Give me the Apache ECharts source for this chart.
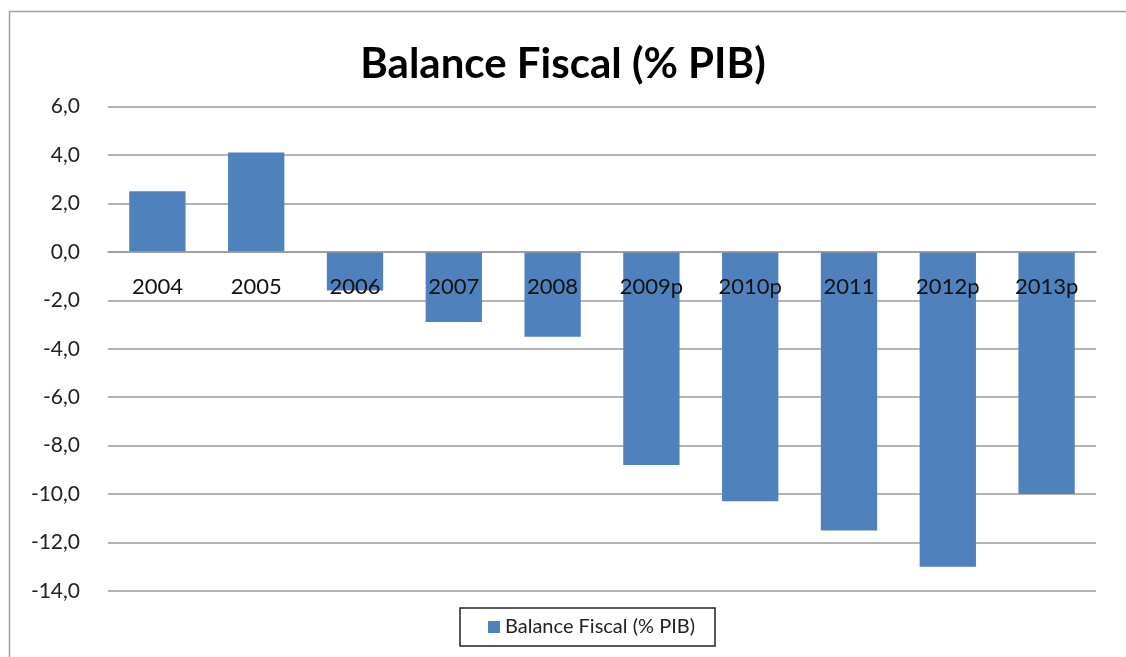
<!DOCTYPE html>
<html>
<head>
<meta charset="utf-8">
<script src="https://cdn.jsdelivr.net/npm/echarts@6/dist/echarts.min.js"></script>
<style>
  html, body { margin: 0; padding: 0; background: #fff; }
  #chart { width: 1126px; height: 657px; }
</style>
</head>
<body>
<div id="chart"></div>
<script>
// data
const years = ["2004", "2005", "2006", "2007", "2008", "2009p", "2010p", "2011", "2012p", "2013p"];
const balance = [2.5, 4.1, -1.6, -2.9, -3.5, -8.8, -10.3, -11.5, -13.0, -10.0];
const seriesName = "Balance Fiscal (% PIB)";

const chart = echarts.init(document.getElementById("chart"));

const gridTop = 106.5;
const gridBottom = 66;
const yMin = -14;
const yMax = 6;
// the category labels sit just under the zero line, as in Excel
const gridHeight = 657 - gridTop - gridBottom;
const zeroOffset = -gridHeight * (0 - yMin) / (yMax - yMin);

const option = {
  animation: false,
  backgroundColor: "#fff",
  textStyle: { fontFamily: "Lato" },
  // outer chart frame (Excel chart area border)
  graphic: [
    {
      type: "rect",
      shape: { x: 9.5, y: 11.5, width: 1130, height: 660 },
      style: { fill: "none", stroke: "#a0a0a0", lineWidth: 1.5 },
      silent: true,
    },
  ],
  title: {
    text: "Balance Fiscal (% PIB)",
    left: "center",
    top: 38,
    textStyle: { fontFamily: "Lato", fontWeight: "bold", fontSize: 42, color: "#000" },
  },
  grid: { left: 108, right: 30, top: gridTop, bottom: gridBottom },
  legend: {
    data: [seriesName],
    left: 460,
    top: 608,
    padding: [9, 20, 9, 28],
    itemWidth: 12,
    itemHeight: 12,
    itemGap: 7,
    borderColor: "#222",
    borderWidth: 1.5,
    icon: "rect",
    textStyle: { fontFamily: "Lato", fontSize: 20, color: "#222" },
  },
  xAxis: {
    type: "category",
    data: years,
    offset: zeroOffset,
    axisLine: { onZero: false, lineStyle: { color: "#9a9a9a", width: 1.5 } },
    axisTick: { show: false },
    axisLabel: { margin: 24, fontFamily: "Lato", fontSize: 22, color: "#111", interval: 0 },
    z: 5,
  },
  yAxis: {
    type: "value",
    min: yMin,
    max: yMax,
    interval: 2,
    axisLine: { show: false },
    axisTick: { show: false },
    axisLabel: {
      margin: 28,
      fontFamily: "Lato",
      fontSize: 21,
      color: "#222",
      formatter: (v) => v.toFixed(1).replace(".", ","),
    },
    splitLine: { lineStyle: { color: "#9a9a9a", width: 1.5 } },
  },
  series: [
    {
      name: seriesName,
      type: "bar",
      data: balance,
      barCategoryGap: "43%",
      itemStyle: { color: "#4f81bd" },
    },
  ],
};

chart.setOption(option);
</script>
</body>
</html>
